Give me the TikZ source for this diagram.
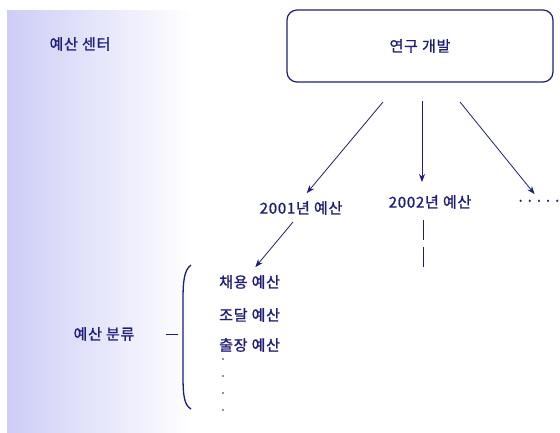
\documentclass[tikz,border=0pt]{standalone}
\usepackage{fontspec}
\usepackage{xcolor}
\usetikzlibrary{arrows.meta}
\newfontfamily\kr[LetterSpace=5,FakeBold=1.2]{Noto Sans CJK KR}
\definecolor{navy}{HTML}{1E1E78}
\definecolor{shadeblue}{HTML}{CDCDF7}
\tikzset{
	lbl/.style={font=\kr\fontsize{15}{17}\selectfont, text=navy, inner sep=1pt},
	arr/.style={draw=navy, line width=0.8pt, -{Stealth[length=8pt,width=6pt]}}
}

\begin{document}
\begin{tikzpicture}[x=1pt,y=-1pt]
\useasboundingbox (0,0) rectangle (560,432);

\shade[left color=shadeblue, right color=white] (7,10) rectangle (192,432);

\node[lbl] (center) at (80,44) {예산 센터};
\node[lbl, draw=navy, line width=1.2pt, rounded corners=10pt, minimum width=266pt, minimum height=72pt] (rd) at (420,46) {연구 개발};

\node[lbl] (y2001) at (301,208) {2001년 예산};
\node[lbl] (y2002) at (430,202) {2002년 예산};
\node[lbl, inner sep=0pt] (more) at (539,203) {·····};

\coordinate (s1) at (383,102);
\coordinate (s2) at (422,101);
\coordinate (s3) at (460,102);
\draw[arr, shorten >=9pt] (s1) -- (y2001.north);
\draw[arr, shorten >=12pt] (s2) -- (s2 |- y2002.north);
\draw[arr, shorten >=7pt] (s3) -- (more.north);

\node[lbl, anchor=west] (hire) at (218,282) {채용 예산};
\node[lbl, anchor=west] (buy) at (218,315) {조달 예산};
\node[lbl, anchor=west] (trip) at (218,345) {출장 예산};
\foreach \y in {359,376,393,410}{
	\fill[navy] (223,\y) circle (0.9);
}

\coordinate (c4) at (293,222);
\draw[arr, shorten >=9pt] (c4) -- (hire.north);

\coordinate (d1) at (423,220);
\coordinate (d2) at (423,267);
\draw[navy, line width=0.8pt, dash pattern=on 20pt off 7pt] (d1) -- (d2);

\node[lbl] (cat) at (104,334) {예산 분류};
\draw[navy, line width=1.3pt] (191,265) .. controls (184,270) and (183,282) .. (183,300) -- (183,375) .. controls (183,395) and (184,405) .. (191,409);
\draw[navy, line width=0.9pt] (166,334) -- (178,334);

\end{tikzpicture}
\end{document}
